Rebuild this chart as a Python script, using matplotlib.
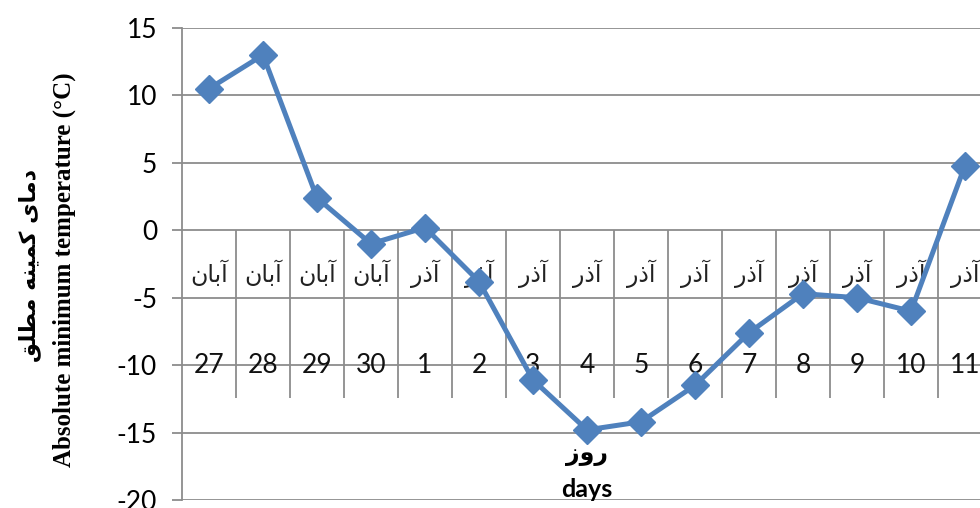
import matplotlib
matplotlib.use("Agg")
import matplotlib.pyplot as plt

# days on the category axis and their Persian month names (visual order glyphs)
days = ["27", "28", "29", "30", "1", "2", "3", "4", "5", "6", "7", "8", "9", "10", "11"]
ABAN = "\uFEE5\uFE8E\uFE91\uFE81"      # آبان
AZAR = "\u0631\u0630\uFE81"            # آذر
months = [ABAN] * 4 + [AZAR] * 11
tmin = [10.5, 13.0, 2.4, -1.0, 0.2, -3.8, -11.1, -14.8, -14.2, -11.5, -7.6, -4.7, -5.0, -6.0, 4.8]
yticks = [15, 10, 5, 0, -5, -10, -15, -20]

FA_YLABEL = "\uFED6\uFEE0\uFEC4\uFEE3 \uFEEA\uFEE8\uFBFF\uFEE4\uFB90 \uFBFC\uFE8E\uFEE3\uFEA9"  # دمای کمینه مطلق
FA_DAYS = "\u0632\u0648\u0631"  # روز

GRID = "#8c8c8c"
BLUE = "#4f81bd"

fig = plt.figure(figsize=(9.8, 5.08), dpi=100)
W, H = 980, 508
ax = fig.add_axes([182 / W, 8 / H, (W - 182) / W, (500 - 28) / H])

x = list(range(len(days)))
ax.set_xlim(-0.5, -0.5 + (W - 182) / 54)
ax.set_ylim(-20, 15)

for y in yticks:
    ax.axhline(y, color=GRID, lw=1.3, zorder=1)
# category separators of the multi-level axis
for i in range(1, len(days) + 1):
    ax.vlines(i - 0.5, -12.4, 0, color=GRID, lw=1.3, zorder=1)

for i in x:
    ax.text(i, -3.2, months[i], ha="center", va="center", fontsize=17,
            family="DejaVu Sans", color="#222222", zorder=2)
    ax.text(i, -10.0, days[i], ha="center", va="center", fontsize=19,
            family="Lato", color="#111111", zorder=2)

ax.plot(x, tmin, color=BLUE, lw=3.6, marker="D", markersize=14, zorder=3)

ax.set_yticks(yticks)
ax.set_yticklabels([str(v) for v in yticks], fontsize=19, family="Lato")
ax.tick_params(axis="y", length=7, width=1.3, color=GRID, pad=11)
ax.set_xticks([])
for s in ["top", "right", "bottom"]:
    ax.spines[s].set_visible(False)
ax.spines["left"].set_color(GRID)
ax.spines["left"].set_linewidth(1.3)

ax.text(7, -16.6, FA_DAYS, ha="center", va="center", fontsize=17,
        family="DejaVu Sans", fontweight="bold")
ax.text(7, -19.2, "days", ha="center", va="center", fontsize=18,
        family="Lato", fontweight="bold")

fig.text(30 / W, 1 - 266 / H, FA_YLABEL, rotation=90, ha="center", va="center",
         fontsize=16, family="DejaVu Sans", fontweight="bold")
fig.text(64 / W, 1 - 270 / H, "Absolute minimum temperature (\u00b0C)", rotation=90,
         ha="center", va="center", fontsize=18, family="Liberation Serif",
         fontweight="bold")

fig.savefig("out.png", dpi=100)
